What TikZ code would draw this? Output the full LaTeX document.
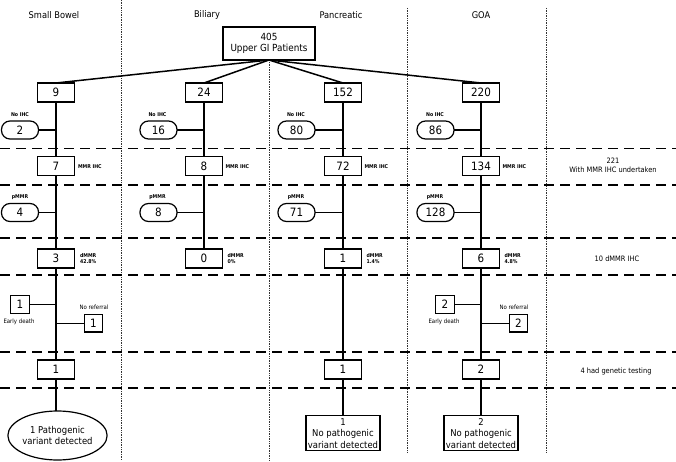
\documentclass[tikz,border=0pt]{standalone}
\usepackage{fontspec}
\setmainfont{DejaVu Sans Condensed}
\usetikzlibrary{calc,shapes.geometric}
\begin{document}
\begin{tikzpicture}[x=1pt,y=-1pt,
  every node/.style={inner sep=0pt, outer sep=0pt},
  numbox/.style={draw, line width=1.2pt, fill=white, minimum width=37pt, minimum height=19pt, font=\fontsize{11.5}{12}\selectfont},
  smallbox/.style={draw, line width=1.2pt, fill=white, minimum width=18.5pt, minimum height=17.5pt, font=\fontsize{11.5}{12}\selectfont},
  ovalbox/.style={draw, line width=1.2pt, fill=white, rounded corners=8.5pt, minimum width=37pt, minimum height=18pt, font=\fontsize{11.5}{12}\selectfont},
  tinylab/.style={font=\bfseries\fontsize{5.2}{6}\selectfont, align=left},
  sidelab/.style={font=\fontsize{6}{7}\selectfont},
  rightlab/.style={font=\fontsize{7.4}{8.8}\selectfont, align=center},
  header/.style={font=\fontsize{9.2}{10}\selectfont},
  conn/.style={line width=1.5pt},
  sepline/.style={line width=1.5pt, dash pattern=on 10pt off 6pt},
  colline/.style={line width=0.7pt, densely dotted, black!80},
  finalbox/.style={draw, line width=1.2pt, fill=white, minimum width=74pt, minimum height=35pt, align=center, font=\fontsize{9.4}{11.5}\selectfont}
]
\useasboundingbox (0,0) rectangle (676,462);
\fill[white] (0,0) rectangle (676,462);

% column separators
\draw[colline] (121,0) -- (121,460);
\draw[colline] (269,62) -- (269,460);
\draw[colline] (407.5,8) -- (407.5,452);
\draw[colline] (546,8) -- (546,452);

% headers
\node[header] (hsb) at (54,15) {Small Bowel};
\node[header] (hbil) at (207,15) {Biliary};
\node[header] (hpan) at (341,15) {Pancreatic};
\node[header] (hgoa) at (481,15) {GOA};

% dashed separators
\foreach \yy in {148.3,185,238,275,352,388} {
  \draw[sepline] (0,\yy) -- (676,\yy);
}

% top box
\node[draw, line width=2pt, fill=white, minimum width=92pt, minimum height=33pt, align=center, font=\fontsize{9.8}{11.5}\selectfont] (top) at (269,43.5) {405\\Upper GI Patients};

% level 1
\node[numbox] (sb1) at (56,92.5) {9};
\node[numbox] (bi1) at (204,92.5) {24};
\node[numbox] (pa1) at (343,92.5) {152};
\node[numbox] (go1) at (481,92.5) {220};

% MMR IHC level
\node[numbox] (sb2) at (56,166.3) {7};
\node[numbox] (bi2) at (204,166.3) {8};
\node[numbox] (pa2) at (343,166.3) {72};
\node[numbox] (go2) at (481,166.3) {134};

% dMMR level
\node[numbox] (sb3) at (56,258.5) {3};
\node[numbox] (bi3) at (204,258.5) {0};
\node[numbox] (pa3) at (343,258.5) {1};
\node[numbox] (go3) at (481,258.5) {6};

% genetic testing level
\node[numbox] (sb4) at (56,369.5) {1};
\node[numbox] (pa4) at (343,369.5) {1};
\node[numbox] (go4) at (481,369.5) {2};

% final results
\node[draw, line width=1.2pt, fill=white, ellipse, minimum width=92pt, minimum height=49pt, align=center, font=\fontsize{9.4}{11.5}\selectfont] (sb5) at (57.5,435.5) {1 Pathogenic\\variant detected};
\node[finalbox] (pa5) at (343,433.3) {1\\No pathogenic\\variant detected};
\node[finalbox] (go5) at (481,433.3) {2\\No pathogenic\\variant detected};

% No IHC ovals
\node[ovalbox] (sbn) at (20,130) {2};
\node[ovalbox] (bin) at (158.5,130) {16};
\node[ovalbox] (pan) at (296.5,130) {80};
\node[ovalbox] (gon) at (435.5,130) {86};

% pMMR ovals
\node[ovalbox] (sbp) at (20,212.5) {4};
\node[ovalbox] (bip) at (158.5,212.5) {8};
\node[ovalbox] (pap) at (296.5,212.5) {71};
\node[ovalbox] (gop) at (435.5,212.5) {128};

% early death / no referral
\node[smallbox] (sbed) at (20,304.5) {1};
\node[smallbox] (sbnr) at (93.5,323.3) {1};
\node[smallbox] (goed) at (445,304.5) {2};
\node[smallbox] (gonr) at (518.5,323.3) {2};

% connectors from top
\draw[conn] (top.south) -- (sb1.north);
\draw[conn] (top.south) -- (bi1.north);
\draw[conn] (top.south) -- (pa1.north);
\draw[conn] (top.south) -- (go1.north);

% vertical chains
\draw[conn] (sb1) -- (sb2);
\draw[conn] (sb2) -- (sb3);
\draw[conn] (sb3) -- (sb4);
\draw[conn] (sb4.south) -- (sb4.south |- sb5.north);
\draw[conn] (bi1) -- (bi2);
\draw[conn] (bi2) -- (bi3);
\draw[conn] (pa1) -- (pa2);
\draw[conn] (pa2) -- (pa3);
\draw[conn] (pa3) -- (pa4);
\draw[conn] (pa4) -- (pa5);
\draw[conn] (go1) -- (go2);
\draw[conn] (go2) -- (go3);
\draw[conn] (go3) -- (go4);
\draw[conn] (go4) -- (go5);

% side branches
\draw[conn] (sbn.east) -- (sbn.east -| sb1);
\draw[conn] (bin.east) -- (bin.east -| bi1);
\draw[conn] (pan.east) -- (pan.east -| pa1);
\draw[conn] (gon.east) -- (gon.east -| go1);
\draw[conn] (sbp.east) -- (sbp.east -| sb1);
\draw[conn] (bip.east) -- (bip.east -| bi1);
\draw[conn] (pap.east) -- (pap.east -| pa1);
\draw[conn] (gop.east) -- (gop.east -| go1);
\draw[conn] (sbed.east) -- (sbed.east -| sb3);
\draw[conn] (sbnr.west) -- (sbnr.west -| sb3);
\draw[conn] (goed.east) -- (goed.east -| go3);
\draw[conn] (gonr.west) -- (gonr.west -| go3);

% labels
\node[tinylab] (l1) at (20,114.5) {No IHC};
\node[tinylab] (l2) at (157.5,114.5) {No IHC};
\node[tinylab] (l3) at (296,114.5) {No IHC};
\node[tinylab] (l4) at (435,114.5) {No IHC};
\node[tinylab] (p1) at (20,197.5) {pMMR};
\node[tinylab] (p2) at (157.5,197.5) {pMMR};
\node[tinylab] (p3) at (296,197.5) {pMMR};
\node[tinylab] (p4) at (435,197.5) {pMMR};
\node[tinylab, anchor=west] (m1) at (78,166.3) {MMR IHC};
\node[tinylab, anchor=west] (m2) at (225.5,166.3) {MMR IHC};
\node[tinylab, anchor=west] (m3) at (364.5,166.3) {MMR IHC};
\node[tinylab, anchor=west] (m4) at (502.5,166.3) {MMR IHC};
\node[tinylab, anchor=west] (d1) at (80,258.3) {dMMR\\42.8\%};
\node[tinylab, anchor=west] (d2) at (227.5,258.3) {dMMR\\0\%};
\node[tinylab, anchor=west] (d3) at (366.5,258.3) {dMMR\\1.4\%};
\node[tinylab, anchor=west] (d4) at (504.5,258.3) {dMMR\\4.8\%};
\node[sidelab] (e1) at (19,322) {Early death};
\node[sidelab] (r1) at (94,306.8) {No referral};
\node[sidelab] (e2) at (444,322) {Early death};
\node[sidelab] (r2) at (514,306.8) {No referral};

% right column
\node[rightlab] (rc1) at (613,165) {221\\With MMR IHC undertaken};
\node[rightlab] (rc2) at (617,258.5) {10 dMMR IHC};
\node[rightlab] (rc3) at (616,371) {4 had genetic testing};
\end{tikzpicture}
\end{document}
